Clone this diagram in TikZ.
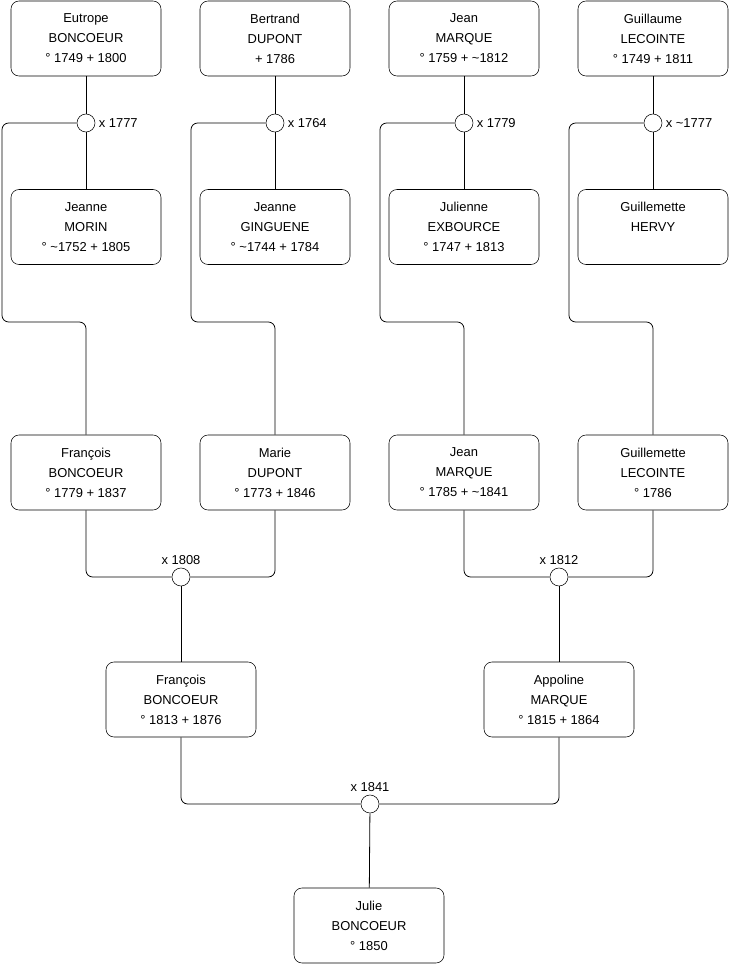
\documentclass[tikz,border=0pt]{standalone}
\usepackage{fontspec}
\setmainfont{Liberation Sans}
\begin{document}
\begin{tikzpicture}[
  x=0.75pt, y=-0.75pt,
  font=\fontsize{9.7}{15}\selectfont,
  person/.style={draw, rounded corners=6pt, minimum width=112.5pt,
                 minimum height=56.25pt, align=center, inner sep=2pt, fill=white},
  union/.style={draw, circle, minimum size=13.5pt, inner sep=0pt, fill=white},
  date/.style={inner sep=2.5pt},
  link/.style={line width=0.6pt, rounded corners=5pt}
]
\useasboundingbox (0,0) rectangle (740,975);

% generation 1
\node[person] (eutrope) at (86,38.5) {Eutrope\\BONCOEUR\\° 1749 + 1800};
\node[person] (bertrand) at (275,38.5) {Bertrand\\DUPONT\\+ 1786};
\node[person] (jean1) at (464,38.5) {Jean\\MARQUE\\° 1759 + \textasciitilde 1812};
\node[person] (guillaume) at (653,38.5) {Guillaume\\LECOINTE\\° 1749 + 1811};

\node[union] (u1777) at (86,123) {};
\node[union] (u1764) at (275,123) {};
\node[union] (u1779) at (464,123) {};
\node[union] (u1777b) at (653,123) {};
\node[date, anchor=west] at (u1777.east) {x 1777};
\node[date, anchor=west] at (u1764.east) {x 1764};
\node[date, anchor=west] at (u1779.east) {x 1779};
\node[date, anchor=west] at (u1777b.east) {x \textasciitilde 1777};

\node[person] (jeanneM) at (86,227) {Jeanne\\MORIN\\° \textasciitilde 1752 + 1805};
\node[person] (jeanneG) at (275,227) {Jeanne\\GINGUENE\\° \textasciitilde 1744 + 1784};
\node[person] (julienne) at (464,227) {Julienne\\EXBOURCE\\° 1747 + 1813};
\node[person] (guillemetteH) at (653,227) {Guillemette\\HERVY\\\mbox{}};

\draw[link] (eutrope) -- (u1777) -- (jeanneM);
\draw[link] (bertrand) -- (u1764) -- (jeanneG);
\draw[link] (jean1) -- (u1779) -- (julienne);
\draw[link] (guillaume) -- (u1777b) -- (guillemetteH);

% generation 2
\node[person] (francois1) at (86,472.5) {François\\BONCOEUR\\° 1779 + 1837};
\node[person] (marie) at (275,472.5) {Marie\\DUPONT\\° 1773 + 1846};
\node[person] (jean2) at (464,472.5) {Jean\\MARQUE\\° 1785 + \textasciitilde 1841};
\node[person] (guillemetteL) at (653,472.5) {Guillemette\\LECOINTE\\° 1786};

\draw[link] (u1777.west) -- (2,123) -- (2,322) -- (86,322) -- (francois1.north);
\draw[link] (u1764.west) -- (191,123) -- (191,322) -- (275,322) -- (marie.north);
\draw[link] (u1779.west) -- (380,123) -- (380,322) -- (464,322) -- (jean2.north);
\draw[link] (u1777b.west) -- (569,123) -- (569,322) -- (653,322) -- (guillemetteL.north);

\node[union] (u1808) at (181,577) {};
\node[union] (u1812) at (559,577) {};
\node[date, anchor=south] at (u1808.north) {x 1808};
\node[date, anchor=south] at (u1812.north) {x 1812};

\draw[link] (francois1.south) -- (86,577) -- (u1808.west);
\draw[link] (marie.south) -- (275,577) -- (u1808.east);
\draw[link] (jean2.south) -- (464,577) -- (u1812.west);
\draw[link] (guillemetteL.south) -- (653,577) -- (u1812.east);

% generation 3
\node[person] (francois2) at (181,699.5) {François\\BONCOEUR\\° 1813 + 1876};
\node[person] (appoline) at (559,699.5) {Appoline\\MARQUE\\° 1815 + 1864};

\draw[link] (u1808) -- (francois2);
\draw[link] (u1812) -- (appoline);

\node[union] (u1841) at (370,804) {};
\node[date, anchor=south] at (u1841.north) {x 1841};

\draw[link] (francois2.south) -- (181,804) -- (u1841.west);
\draw[link] (appoline.south) -- (559,804) -- (u1841.east);

% generation 4
\node[person] (julie) at (369,925.5) {Julie\\BONCOEUR\\° 1850};
\draw[link] (u1841) -- (julie);
\end{tikzpicture}
\end{document}
